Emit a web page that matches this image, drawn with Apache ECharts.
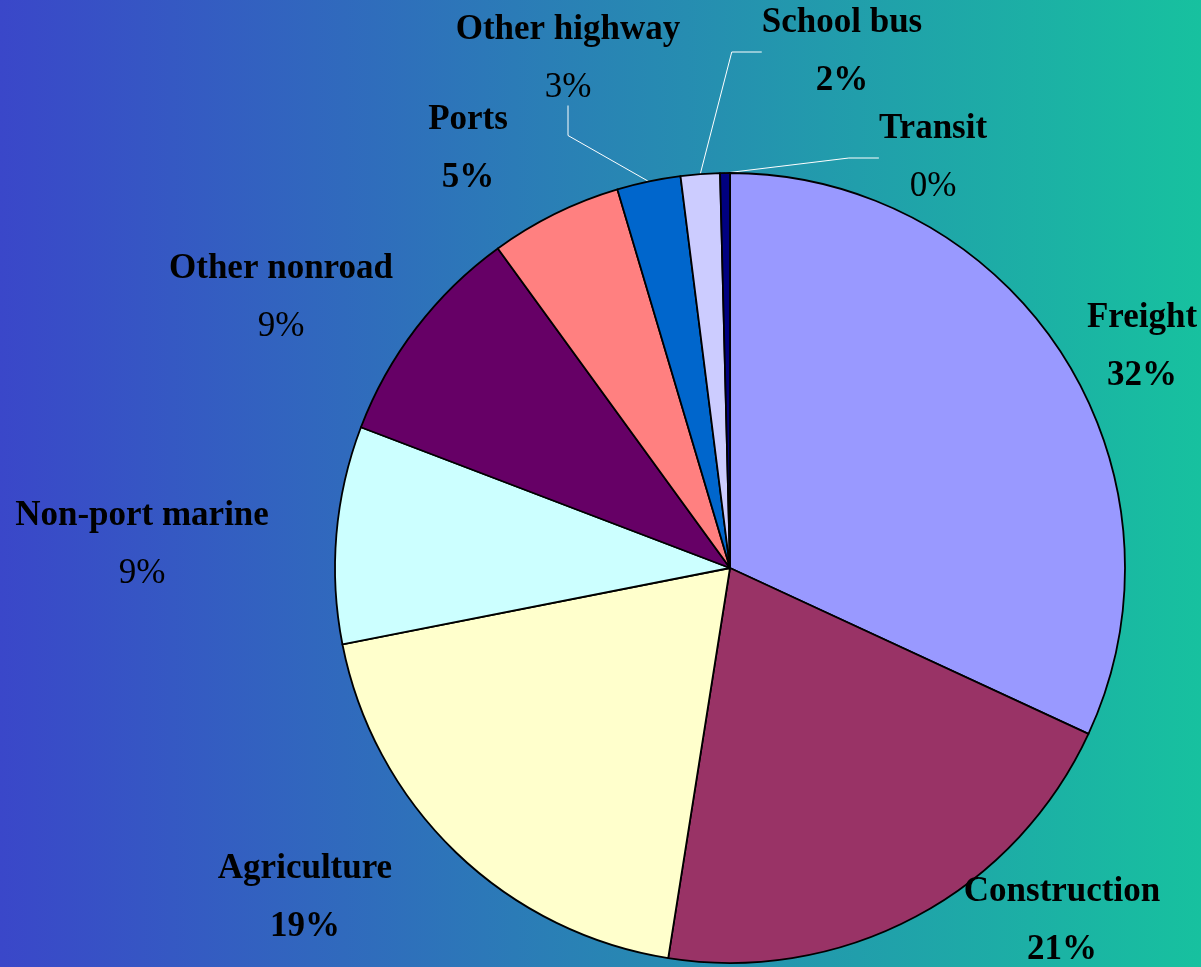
<!DOCTYPE html>
<html>
<head>
<meta charset="utf-8">
<script src="https://cdn.jsdelivr.net/npm/echarts@6/dist/echarts.min.js"></script>
<style>
  html, body { margin: 0; padding: 0; }
  #chart { width: 1201px; height: 967px; }
</style>
</head>
<body>
<div id="chart"></div>
<script>
// 数据
var categories = ['Freight', 'Construction', 'Agriculture', 'Non-port marine', 'Other nonroad',
    'Ports', 'Other highway', 'School bus', 'Transit'];
var shares = [31.9, 20.6, 19.4, 8.9, 9.2, 5.4, 2.6, 1.6, 0.4];

var colors = ['#9999ff', '#993366', '#ffffcc', '#ccffff', '#660066', '#ff8080', '#0066cc', '#ccccff', '#000080'];
// 百分比是否加粗
var boldPct = [true, true, true, false, false, true, false, true, false];
// 带引导线的标签
var withLine = [false, false, false, false, false, false, true, true, true];
// 标签中心位置
var labelPos = [[1142, 347], [1062, 921], [305, 898], [142, 545], [281, 298],
    [468, 149], [568, 59], [842, 52], [933, 158]];

var myChart = echarts.init(document.getElementById('chart'));

var pieData = [];
for (var i = 0; i < categories.length; i++) {
    pieData.push({
        name: categories[i],
        value: shares[i],
        itemStyle: { color: colors[i] },
        labelLine: { show: withLine[i] }
    });
}

var option = {
    backgroundColor: new echarts.graphic.LinearGradient(0, 0, 1, 0, [
        { offset: 0, color: '#3a47c9' },
        { offset: 1, color: '#17c19f' }
    ]),
    animation: false,
    series: [{
        type: 'pie',
        center: [730, 568],
        radius: 395,
        startAngle: 90,
        clockwise: true,
        avoidLabelOverlap: false,
        itemStyle: {
            borderColor: '#000',
            borderWidth: 1.8
        },
        label: {
            show: true,
            position: 'outside',
            fontFamily: 'Liberation Serif',
            color: '#000',
            formatter: function (p) {
                var pct = Math.round(p.value) + '%';
                return '{n|' + p.name + '}\n' + (boldPct[p.dataIndex] ? '{pb|' + pct + '}' : '{p|' + pct + '}');
            },
            rich: {
                n: { fontFamily: 'Liberation Serif', fontSize: 35, fontWeight: 'bold', lineHeight: 58, color: '#000' },
                pb: { fontFamily: 'Liberation Serif', fontSize: 35, fontWeight: 'bold', lineHeight: 58, color: '#000' },
                p: { fontFamily: 'Liberation Serif', fontSize: 35, lineHeight: 58, color: '#000' }
            }
        },
        labelLine: {
            show: false,
            lineStyle: { color: '#fff', width: 1 }
        },
        labelLayout: function (params) {
            var pos = labelPos[params.dataIndex];
            return {
                x: pos[0],
                y: pos[1],
                align: 'center',
                verticalAlign: 'middle'
            };
        },
        data: pieData
    }]
};

myChart.setOption(option);
</script>
</body>
</html>
